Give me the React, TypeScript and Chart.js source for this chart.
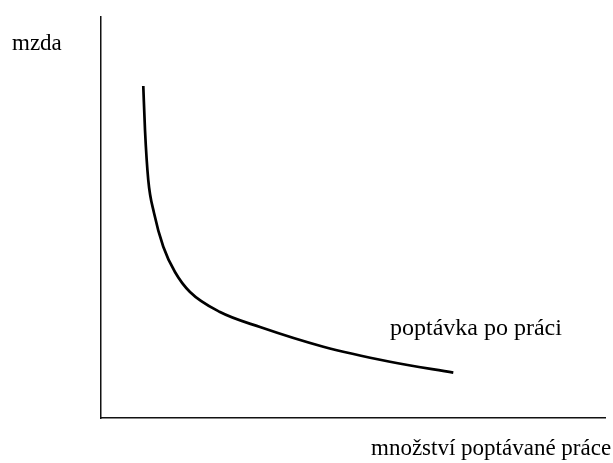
import React, { useEffect, useRef } from "react";
import { Chart, registerables } from "chart.js";

Chart.register(...registerables);

// Demand-for-labour curve (arbitrary units: quantity of labour, wage)
const quantity = [8.39, 8.73, 9.38, 10.52, 12.36, 14.68, 17.66, 23.61, 31.55, 44.11, 57.34, 69.9];
const wage = [82.79, 71.82, 59.35, 51.12, 42.72, 36.41, 31.42, 26.43, 22.69, 17.78, 14.04, 11.3];

const yAxisLabel = "mzda";
const xAxisLabel = "množství poptávané práce";
const curveLabel = "poptávka po práci";

const FAMILY = '"Liberation Serif", "Times New Roman", serif';

const labelsPlugin = {
  id: "freeLabels",
  afterDraw(chart: any) {
    const ctx = chart.ctx;
    ctx.save();
    ctx.fillStyle = "#000";
    ctx.textBaseline = "alphabetic";
    ctx.textAlign = "left";
    ctx.font = "23px " + FAMILY;
    ctx.fillText(yAxisLabel, 12, 50);
    ctx.fillText(xAxisLabel, 371, 455);
    ctx.font = "24px " + FAMILY;
    ctx.fillText(curveLabel, 390, 335);
    ctx.restore();
  },
};

export default function App() {
  const ref = useRef<HTMLCanvasElement | null>(null);
  useEffect(() => {
    if (!ref.current) return;
    const chart = new Chart(ref.current, {
      type: "line",
      data: {
        datasets: [
          {
            data: quantity.map((q, i) => ({ x: q, y: wage[i] })),
            borderColor: "#000",
            borderWidth: 2.7,
            pointRadius: 0,
            fill: false,
            cubicInterpolationMode: "monotone",
          },
        ],
      },
      options: {
        animation: false,
        responsive: false,
        devicePixelRatio: 1,
        layout: { padding: { left: 101, right: 8, top: 17, bottom: 45 } },
        plugins: { legend: { display: false }, tooltip: { enabled: false } },
        scales: {
          x: {
            type: "linear",
            min: 0,
            max: 100,
            grid: { display: false, drawTicks: false },
            ticks: { display: false },
            border: { display: true, color: "#111", width: 1.5 },
          },
          y: {
            type: "linear",
            min: 0,
            max: 100,
            grid: { display: false, drawTicks: false },
            ticks: { display: false },
            border: { display: true, color: "#111", width: 1.5 },
          },
        },
      },
      plugins: [labelsPlugin],
    });
    return () => chart.destroy();
  }, []);
  return (
    <div style={{ position: "fixed", left: 0, top: 0, width: 613, height: 463, background: "#fff" }}>
      <canvas ref={ref} width={613} height={463} style={{ width: 613, height: 463 }} />
    </div>
  );
}
